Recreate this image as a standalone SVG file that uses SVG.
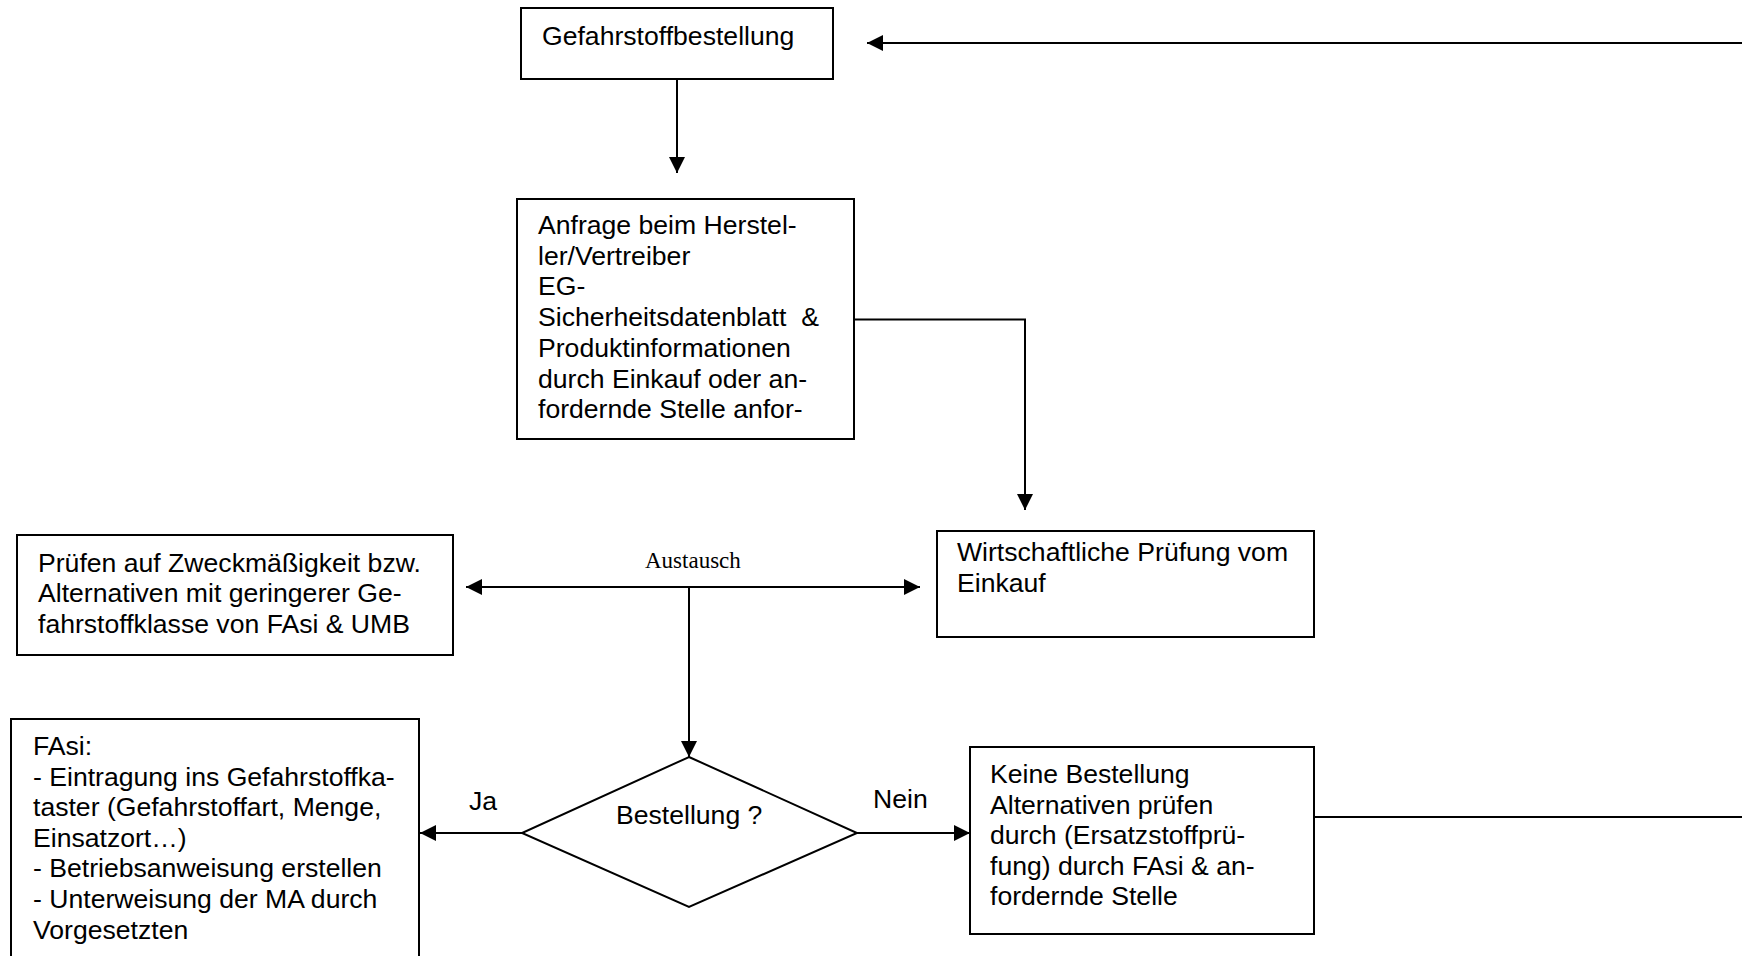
<svg xmlns="http://www.w3.org/2000/svg" width="1742" height="956" viewBox="0 0 1742 956">
<style>
.box{fill:#fff;stroke:#000;stroke-width:2}
.t{font-family:"Liberation Sans",Arial,sans-serif;font-size:26.6px;fill:#000}
.s{font-family:"Liberation Serif","Times New Roman",serif;font-size:23px;fill:#000}
.ln{fill:none;stroke:#000;stroke-width:2}
.arr{marker-end:url(#ah)}
.arr2{marker-start:url(#ah);marker-end:url(#ah)}
</style>
<defs>
<marker id="ah" markerUnits="userSpaceOnUse" markerWidth="16" markerHeight="16" viewBox="0 0 15 15" refX="15" refY="7.5" orient="auto-start-reverse">
<path d="M0,0 L15,7.5 L0,15 z" fill="#000"/>
</marker>
</defs>
<rect width="1742" height="956" fill="#fff"/>
<g id="connectors">
<line class="ln arr" x1="1742" y1="43" x2="867" y2="43"/>
<line class="ln arr" x1="677" y1="79" x2="677" y2="173"/>
<polyline class="ln arr" points="854,319.5 1025,319.5 1025,510"/>
<line class="ln arr2" x1="466" y1="587" x2="920" y2="587"/>
<line class="ln arr" x1="689" y1="587" x2="689" y2="757"/>
<line class="ln arr" x1="522" y1="833" x2="420" y2="833"/>
<line class="ln arr" x1="857" y1="833" x2="970" y2="833"/>
<line class="ln" x1="1307" y1="817" x2="1742" y2="817"/>
<text class="s" x="645" y="568">Austausch</text>
<text class="t" x="469" y="810">Ja</text>
<text class="t" x="873" y="808">Nein</text>
</g>
<g id="n1">
<rect class="box" x="521" y="8" width="312" height="71"/>
<text class="t" x="542" y="45">Gefahrstoffbestellung</text>
</g>
<g id="n2">
<rect class="box" x="517" y="199" width="337" height="240"/>
<text class="t" xml:space="preserve"><tspan x="538" y="234">Anfrage beim Herstel-</tspan><tspan x="538" y="264.7">ler/Vertreiber</tspan><tspan x="538" y="295.4">EG-</tspan><tspan x="538" y="326.1">Sicherheitsdatenblatt  &amp;</tspan><tspan x="538" y="356.8">Produktinformationen</tspan><tspan x="538" y="387.5">durch Einkauf oder an-</tspan><tspan x="538" y="418.2">fordernde Stelle anfor-</tspan></text>
</g>
<g id="n3">
<rect class="box" x="937" y="531" width="377" height="106"/>
<text class="t"><tspan x="957" y="561">Wirtschaftliche Prüfung vom</tspan><tspan x="957" y="592">Einkauf</tspan></text>
</g>
<g id="n4">
<rect class="box" x="17" y="535" width="436" height="120"/>
<text class="t"><tspan x="38" y="571.7">Prüfen auf Zweckmäßigkeit bzw.</tspan><tspan x="38" y="602.4">Alternativen mit geringerer Ge-</tspan><tspan x="38" y="633.1">fahrstoffklasse von FAsi &amp; UMB</tspan></text>
</g>
<g id="n5">
<polygon class="box" points="689,757 857,833 689,907 522,833"/>
<text class="t" x="616" y="824">Bestellung ?</text>
</g>
<g id="n6">
<rect class="box" x="11" y="719" width="408" height="260"/>
<text class="t"><tspan x="33" y="755">FAsi:</tspan><tspan x="33" y="785.6">- Eintragung ins Gefahrstoffka-</tspan><tspan x="33" y="816.2">taster (Gefahrstoffart, Menge,</tspan><tspan x="33" y="846.8">Einsatzort…)</tspan><tspan x="33" y="877.4">- Betriebsanweisung erstellen</tspan><tspan x="33" y="908">- Unterweisung der MA durch</tspan><tspan x="33" y="938.6">Vorgesetzten</tspan></text>
</g>
<g id="n7">
<rect class="box" x="970" y="747" width="344" height="187"/>
<text class="t"><tspan x="990" y="783">Keine Bestellung</tspan><tspan x="990" y="813.6">Alternativen prüfen</tspan><tspan x="990" y="844.2">durch (Ersatzstoffprü-</tspan><tspan x="990" y="874.8">fung) durch FAsi &amp; an-</tspan><tspan x="990" y="905.4">fordernde Stelle</tspan></text>
</g>
</svg>
